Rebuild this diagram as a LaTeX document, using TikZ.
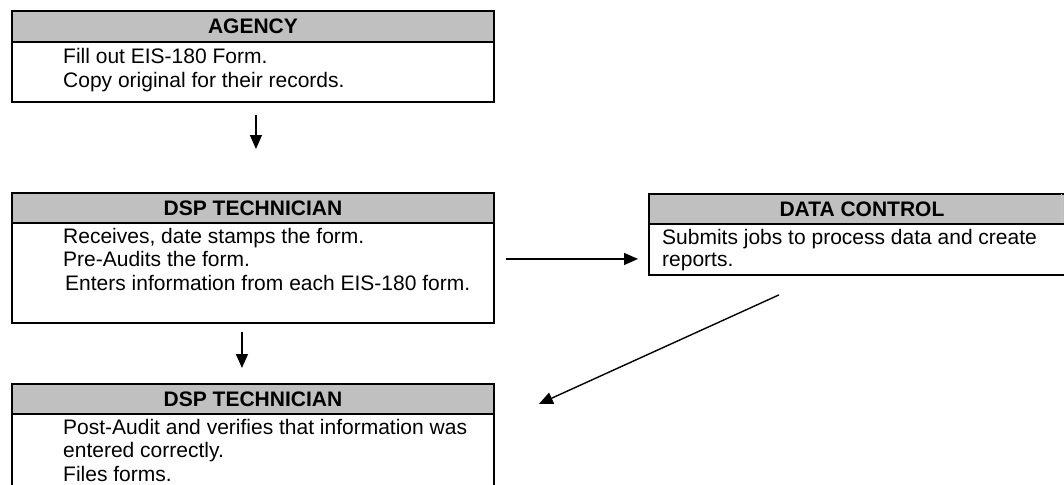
\documentclass[tikz,border=0pt]{standalone}
\usepackage{fontspec}
\setmainfont{Liberation Sans}
\usetikzlibrary{arrows.meta,calc}
\definecolor{hdrgray}{RGB}{192,192,192}
\begin{document}
\begin{tikzpicture}[x=1pt,y=-1pt,
  bodybox/.style={draw, line width=1.9pt, anchor=north west, inner sep=0pt, fill=white},
  hdrbox/.style={draw, line width=1.9pt, anchor=north west, inner sep=0pt, fill=hdrgray, minimum height=30pt},
  hdrtext/.style={inner sep=0pt, font=\fontsize{21}{25}\selectfont\bfseries},
  txt/.style={anchor=base west, inner sep=0pt, font=\fontsize{21}{25}\selectfont},
  arr/.style={line width=1.4pt, -{Triangle[length=14pt,width=12pt]}}]
\useasboundingbox (0,0) rectangle (1064,484);
% AGENCY
\node[bodybox, minimum width=482pt, minimum height=91pt] (agency) at (11,10) {};
\node[hdrbox, minimum width=482pt, minimum height=31pt] (agencyhdr) at (11,10) {};
\node[hdrtext] (agencytitle) at (agencyhdr.center) {AGENCY};
\node[txt] (ag1) at (63,64) {Fill out EIS-180 Form.};
\node[txt] (ag2) at (63,87.5) {Copy original for their records.};
% DSP TECHNICIAN 1
\node[bodybox, minimum width=482pt, minimum height=130pt] (dsp1) at (11,192) {};
\node[hdrbox, minimum width=482pt] (dsp1hdr) at (11,192) {};
\node[hdrtext] (dsp1title) at (dsp1hdr.center) {DSP TECHNICIAN};
\node[txt] (d11) at (63,243) {Receives, date stamps the form.};
\node[txt] (d12) at (63,266.5) {Pre-Audits the form.};
\node[txt] (d13) at (65,290) {Enters information from each EIS-180 form.};
% DATA CONTROL
\node[bodybox, minimum width=426pt, minimum height=81pt] (data) at (648,193) {};
\node[hdrbox, minimum width=426pt] (datahdr) at (648,193) {};
\node[hdrtext] (datatitle) at (datahdr.center) {DATA CONTROL};
\draw[gray!45, line width=0.8pt] (1061,194) -- (1061,222);
\node[txt] (dc1) at (662,244) {Submits jobs to process data and create};
\node[txt] (dc2) at (662,266) {reports.};
% DSP TECHNICIAN 2
\node[bodybox, minimum width=482pt, minimum height=130pt] (dsp2) at (11,383) {};
\node[hdrbox, minimum width=482pt] (dsp2hdr) at (11,383) {};
\node[hdrtext] (dsp2title) at (dsp2hdr.center) {DSP TECHNICIAN};
\node[txt] (d21) at (63,434) {Post-Audit and verifies that information was};
\node[txt] (d22) at (63,457.5) {entered correctly.};
\node[txt] (d23) at (63,481) {Files forms.};
% connectors
\draw[arr] ($(agency.south)+(3,12)$) -- ($(dsp1.north)+(3,-43)$);
\draw[arr] ($(dsp1.south)+(-11,8)$) -- ($(dsp2.north)+(-11,-15)$);
\draw[arr] ($(dsp1.east)+(11,1)$) -- ($(dsp1.east -| data.west)+(-10,1)$);
\draw[arr] ($(data.south)+(-83,19)$) -- ($(dsp2.north east)+(44,21)$);
\end{tikzpicture}
\end{document}
